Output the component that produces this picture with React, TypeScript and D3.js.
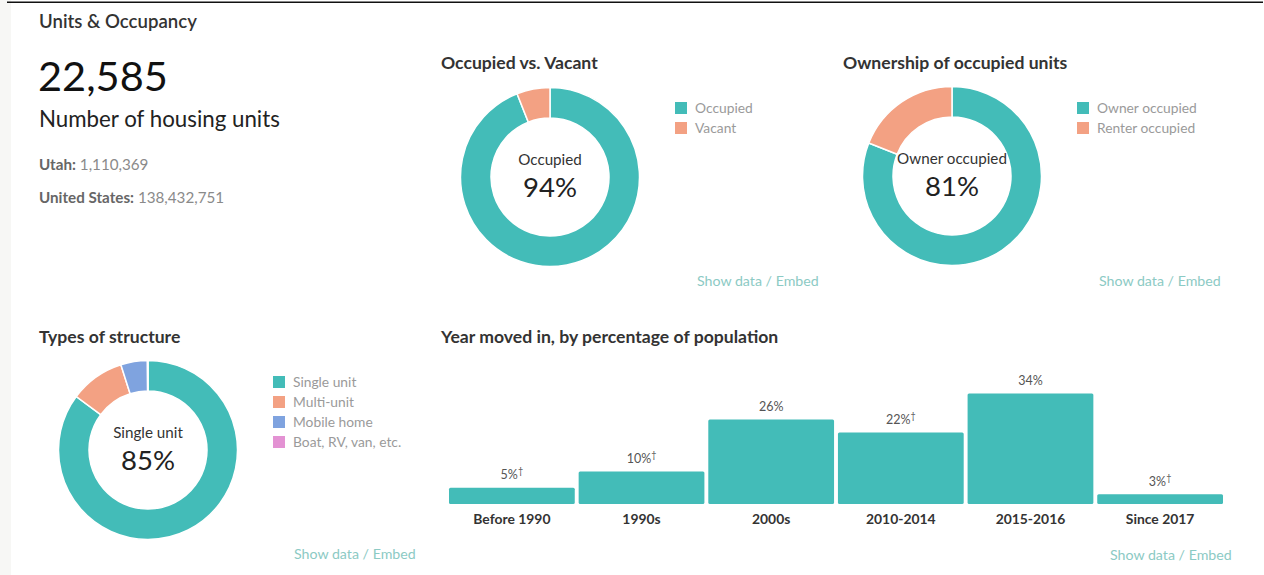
import React from "react";
import * as d3 from "d3";

const headline = "22,585";
const headlineLabel = "Number of housing units";
const comparisons = [
  { label: "Utah:", value: "1,110,369" },
  { label: "United States:", value: "138,432,751" },
];

const occLabels = ["Occupied", "Vacant"];
const occValues = [94, 6];

const ownLabels = ["Owner occupied", "Renter occupied"];
const ownValues = [81, 19];

const structLabels = ["Single unit", "Multi-unit", "Mobile home", "Boat, RV, van, etc."];
const structValues = [85.2, 9.9, 4.8, 0.1];

const yearCategories = ["Before 1990", "1990s", "2000s", "2010-2014", "2015-2016", "Since 2017"];
const yearValues = [5, 10, 26, 22, 34, 3];
const yearDagger = [true, true, false, true, false, true];

const COLORS = ["#43bcb8", "#f3a183", "#7fa3df", "#e392d3"];
const FONT = "Lato, 'Open Sans', sans-serif";

type DonutProps = {
  cx: number;
  cy: number;
  labels: string[];
  values: number[];
  centerLabel: string;
  centerValue: string;
  legendX: number;
  legendY: number;
};

function Donut({ cx, cy, labels, values, centerLabel, centerValue, legendX, legendY }: DonutProps) {
  const pie = d3.pie<number>().sort(null).value((d) => d);
  const arcs = pie(values);
  const arc = d3.arc<d3.PieArcDatum<number>>().innerRadius(59).outerRadius(89.5);
  return (
    <g>
      <g transform={`translate(${cx},${cy})`}>
        {arcs.map((a, i) => (
          <path key={i} d={arc(a) || ""} fill={COLORS[i]} stroke="#fff" strokeWidth={1.5} />
        ))}
        <text x={0} y={-12} textAnchor="middle" fontSize={15.2} fill="#333" fontFamily={FONT}>
          {centerLabel}
        </text>
        <text x={0} y={20} textAnchor="middle" fontSize={27.5} fill="#222" fontFamily={FONT}>
          {centerValue}
        </text>
      </g>
      {labels.map((l, i) => (
        <g key={l} transform={`translate(${legendX},${legendY + i * 20})`}>
          <rect x={0} y={0} width={12} height={12} fill={COLORS[i]} />
          <text x={20} y={11} fontSize={13.8} fill="#9a9a9a" fontFamily={FONT}>
            {l}
          </text>
        </g>
      ))}
    </g>
  );
}

function ShowData({ x, y }: { x: number; y: number }) {
  return (
    <text x={x} y={y} fontSize={14.2} fill="#8ccac4" fontFamily={FONT}>
      Show data / Embed
    </text>
  );
}

export default function App() {
  const x = d3.scaleBand<string>().domain(yearCategories).range([449, 1223]).paddingInner(0.03).paddingOuter(0);
  const y = d3.scaleLinear().domain([0, 34]).range([504, 393.5]);

  return (
    <svg
      width={1264}
      height={575}
      style={{ position: "absolute", left: 0, top: 0, background: "#fff" }}
    >
      <rect x={0} y={0} width={11} height={575} fill="#f7f7f5" />
      <rect x={7} y={1.5} width={1256} height={1.5} fill="#111" />

      <text x={39} y={28} fontSize={18.6} fontWeight={600} fill="#333" fontFamily={FONT}>
        Units &amp; Occupancy
      </text>
      <text x={38} y={91} fontSize={41.5} fill="#111" fontFamily={FONT}>
        {headline}
      </text>
      <text x={39} y={127} fontSize={22.3} fill="#222" fontFamily={FONT}>
        {headlineLabel}
      </text>
      {comparisons.map((c, i) => (
        <text key={c.label} x={39} y={170 + i * 33} fontSize={15.2} fontFamily={FONT}>
          <tspan fill="#666" fontWeight={700}>{c.label}</tspan>
          <tspan fill="#8a8a8a"> {c.value}</tspan>
        </text>
      ))}

      <text x={441} y={69} fontSize={17.6} fontWeight={700} fill="#333" fontFamily={FONT}>
        Occupied vs. Vacant
      </text>
      <Donut
        cx={550}
        cy={177}
        labels={occLabels}
        values={occValues}
        centerLabel="Occupied"
        centerValue={`${occValues[0]}%`}
        legendX={675}
        legendY={102}
      />
      <ShowData x={697} y={286} />

      <text x={843} y={69} fontSize={17.6} fontWeight={700} fill="#333" fontFamily={FONT}>
        Ownership of occupied units
      </text>
      <Donut
        cx={952}
        cy={176}
        labels={ownLabels}
        values={ownValues}
        centerLabel="Owner occupied"
        centerValue={`${ownValues[0]}%`}
        legendX={1077}
        legendY={102}
      />
      <ShowData x={1099} y={286} />

      <text x={39} y={343} fontSize={17.6} fontWeight={700} fill="#333" fontFamily={FONT}>
        Types of structure
      </text>
      <Donut
        cx={148}
        cy={450}
        labels={structLabels}
        values={structValues}
        centerLabel="Single unit"
        centerValue={`${Math.round(structValues[0])}%`}
        legendX={273}
        legendY={376}
      />
      <ShowData x={294} y={559} />

      <text x={441} y={343} fontSize={17.6} fontWeight={700} fill="#333" fontFamily={FONT}>
        Year moved in, by percentage of population
      </text>
      {yearCategories.map((c, i) => {
        const bx = x(c) || 0;
        const bw = x.bandwidth();
        const top = y(yearValues[i]);
        return (
          <g key={c}>
            <rect x={bx} y={top} width={bw} height={y(0) - top} fill={COLORS[0]} rx={1.5} />
            <text x={bx + bw / 2} y={top - 8.5} textAnchor="middle" fontSize={12.5} fill="#555" fontFamily={FONT}>
              {yearValues[i]}%
              {yearDagger[i] ? (
                <tspan fontSize={9} dy={-5}>†</tspan>
              ) : null}
            </text>
            <text x={bx + bw / 2} y={524} textAnchor="middle" fontSize={13.9} fontWeight={700} fill="#333" fontFamily={FONT}>
              {c}
            </text>
          </g>
        );
      })}
      <ShowData x={1110} y={560} />
    </svg>
  );
}
